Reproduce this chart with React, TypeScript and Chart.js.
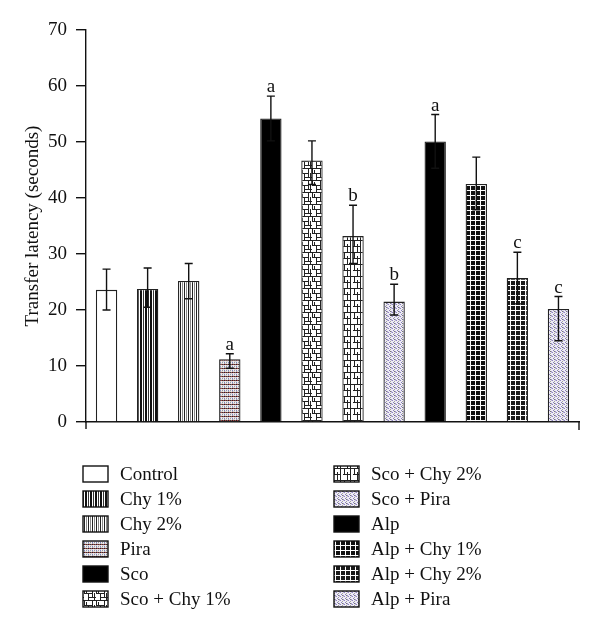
import React, { useEffect, useRef } from "react";
import { Chart, registerables } from "chart.js";

Chart.register(...registerables);

const categories = [
  "Control",
  "Chy 1%",
  "Chy 2%",
  "Pira",
  "Sco",
  "Sco + Chy 1%",
  "Sco + Chy 2%",
  "Sco + Pira",
  "Alp",
  "Alp + Chy 1%",
  "Alp + Chy 2%",
  "Alp + Pira",
];
const latency = [23.6, 23.75, 25.2, 11.2, 54.2, 46.7, 33.2, 21.5, 50.1, 42.5, 25.7, 20.2];
const errorHigh = [27.3, 27.5, 28.3, 12.2, 58.2, 50.2, 38.7, 24.6, 54.9, 47.3, 30.3, 22.4];
const errorLow = [20.0, 20.5, 22.0, 9.6, 50.2, 42.4, 28.3, 19.1, 45.3, 37.9, 21.1, 14.5];
const significance = ["", "", "", "a", "a", "", "b", "b", "a", "", "c", "c"];
const yMin = 0;
const yMax = 70;
const yStep = 10;
const yTitle = "Transfer latency (seconds)";

const patternKinds = [
  "plain",
  "vlinesDense",
  "vlines",
  "pira",
  "solid",
  "bricks1",
  "bricks2",
  "dots",
  "solid",
  "grid1",
  "grid2",
  "dots",
];

const FONT = "'Liberation Serif', 'DejaVu Serif', serif";

function makeFill(kind: string): string | CanvasPattern {
  if (kind === "plain") return "#ffffff";
  if (kind === "solid") return "#000000";
  const cv = document.createElement("canvas");
  const px = (c: CanvasRenderingContext2D, x: number, y: number, col: string, w = 1, h = 1) => {
    c.fillStyle = col;
    c.fillRect(x, y, w, h);
  };
  let c: CanvasRenderingContext2D;
  if (kind === "vlinesDense") {
    cv.width = 5; cv.height = 1;
    c = cv.getContext("2d")!;
    px(c, 0, 0, "#fff", 5, 1);
    px(c, 0, 0, "#111", 2, 1);
    px(c, 3, 0, "#333", 1, 1);
  } else if (kind === "vlines") {
    cv.width = 4; cv.height = 1;
    c = cv.getContext("2d")!;
    px(c, 0, 0, "#fff", 4, 1);
    px(c, 0, 0, "#222", 1, 1);
    px(c, 2, 0, "#888", 1, 1);
  } else if (kind === "pira") {
    cv.width = 4; cv.height = 4;
    c = cv.getContext("2d")!;
    px(c, 0, 0, "#d8d8dc", 4, 4);
    px(c, 0, 0, "#222"); px(c, 1, 0, "#b04040"); px(c, 2, 0, "#333"); px(c, 3, 0, "#a05050");
    px(c, 0, 2, "#7c7cc0"); px(c, 1, 2, "#f0f0f0"); px(c, 2, 2, "#999"); px(c, 3, 2, "#f0f0f0");
    px(c, 1, 1, "#eee"); px(c, 3, 3, "#eee"); px(c, 0, 3, "#aaa");
  } else if (kind === "dots") {
    cv.width = 4; cv.height = 4;
    c = cv.getContext("2d")!;
    px(c, 0, 0, "#eeecf4", 4, 4);
    px(c, 0, 0, "#8f86c0"); px(c, 2, 1, "#a0a0a0"); px(c, 1, 2, "#8880bc"); px(c, 3, 3, "#a098cc");
    px(c, 3, 0, "#c0b8dc"); px(c, 2, 3, "#777");
  } else if (kind === "bricks1") {
    cv.width = 12; cv.height = 12;
    c = cv.getContext("2d")!;
    px(c, 0, 0, "#fff", 12, 12);
    const k = "#222";
    px(c, 0, 0, k, 12, 1);
    px(c, 0, 5, k, 8, 1);
    px(c, 4, 9, k, 8, 1);
    px(c, 0, 0, k, 1, 6);
    px(c, 4, 5, k, 1, 7);
    px(c, 8, 0, k, 1, 10);
    px(c, 10, 5, k, 1, 7);
    px(c, 2, 2, k, 1, 3);
  } else if (kind === "bricks2") {
    cv.width = 10; cv.height = 12;
    c = cv.getContext("2d")!;
    px(c, 0, 0, "#fff", 10, 12);
    const k = "#222";
    px(c, 0, 0, k, 10, 1);
    px(c, 3, 6, k, 7, 1);
    px(c, 0, 0, k, 1, 12);
    px(c, 4, 0, k, 1, 6);
    px(c, 7, 4, k, 1, 8);
  } else {
    cv.width = 5; cv.height = 5;
    c = cv.getContext("2d")!;
    px(c, 0, 0, "#fff", 5, 5);
    px(c, 1, 1, kind === "grid1" ? "#111" : "#1a1a1a", 4, 4);
  }
  return c!.createPattern(cv, "repeat")!;
}

export default function App() {
  const ref = useRef<HTMLCanvasElement | null>(null);

  useEffect(() => {
    if (!ref.current) return;
    const fills = patternKinds.map(makeFill);

    const errorBars = {
      id: "errorBars",
      afterDatasetsDraw(chart: any) {
        const ctx = chart.ctx as CanvasRenderingContext2D;
        const meta = chart.getDatasetMeta(0);
        const ys = chart.scales.y;
        ctx.save();
        ctx.strokeStyle = "#111";
        ctx.lineWidth = 1.4;
        meta.data.forEach((el: any, i: number) => {
          const x = el.x;
          const hi = ys.getPixelForValue(errorHigh[i]);
          const lo = ys.getPixelForValue(errorLow[i]);
          ctx.beginPath();
          ctx.moveTo(x, hi);
          ctx.lineTo(x, lo);
          ctx.moveTo(x - 4, hi);
          ctx.lineTo(x + 4, hi);
          ctx.moveTo(x - 4, lo);
          ctx.lineTo(x + 4, lo);
          ctx.stroke();
          if (significance[i]) {
            ctx.fillStyle = "#111";
            ctx.font = `19px ${FONT}`;
            ctx.textAlign = "center";
            ctx.textBaseline = "alphabetic";
            ctx.fillText(significance[i], x, hi - 4);
          }
        });
        ctx.restore();
      },
    };

    const extras = {
      id: "extras",
      afterDraw(chart: any) {
        const ctx = chart.ctx as CanvasRenderingContext2D;
        const a = chart.chartArea;
        ctx.save();
        ctx.strokeStyle = "#111";
        ctx.lineWidth = 1.4;
        ctx.beginPath();
        ctx.moveTo(a.left, a.bottom);
        ctx.lineTo(a.left, a.bottom + 7);
        ctx.moveTo(a.right, a.bottom);
        ctx.lineTo(a.right, a.bottom + 8);
        ctx.stroke();

        const cols = [
          { sx: 83, tx: 120 },
          { sx: 334, tx: 371 },
        ];
        const perCol = Math.ceil(categories.length / 2);
        ctx.font = `19px ${FONT}`;
        ctx.textAlign = "left";
        ctx.textBaseline = "alphabetic";
        categories.forEach((name, i) => {
          const col = cols[Math.floor(i / perCol)];
          const row = i % perCol;
          const top = 466 + row * 25;
          ctx.fillStyle = fills[i] as any;
          ctx.fillRect(col.sx, top, 25, 16);
          ctx.lineWidth = 1.4;
          ctx.strokeStyle = "#111";
          ctx.strokeRect(col.sx, top, 25, 16);
          ctx.fillStyle = "#111";
          ctx.fillText(name, col.tx, top + 14);
        });
        ctx.restore();
      },
    };

    const chart = new Chart(ref.current, {
      type: "bar",
      data: {
        labels: categories,
        datasets: [
          {
            data: latency,
            backgroundColor: fills as any,
            borderColor: "#222",
            borderWidth: 1.3,
            barPercentage: 0.52,
            categoryPercentage: 1,
          },
        ],
      },
      options: {
        animation: false,
        responsive: false,
        devicePixelRatio: 1,
        layout: { padding: { top: 30, left: 0, right: 21, bottom: 0 } },
        plugins: { legend: { display: false }, tooltip: { enabled: false } },
        scales: {
          x: {
            grid: { display: false },
            ticks: { display: false },
            border: { color: "#111", width: 1.4 },
            afterFit(scale: any) {
              scale.height = 210;
            },
          },
          y: {
            min: yMin,
            max: yMax,
            ticks: {
              stepSize: yStep,
              color: "#111",
              padding: 9,
              font: { family: FONT, size: 19 },
            },
            grid: {
              drawOnChartArea: false,
              drawTicks: true,
              tickLength: 10,
              color: "#111",
              lineWidth: 1.4,
            },
            border: { color: "#111", width: 1.4 },
            title: {
              display: true,
              text: yTitle,
              color: "#111",
              font: { family: FONT, size: 19 },
              padding: { top: 22, bottom: 0 },
            },
            afterFit(scale: any) {
              scale.width = 86;
            },
          },
        },
      },
      plugins: [errorBars, extras],
    });
    return () => chart.destroy();
  }, []);

  return (
    <div style={{ position: "absolute", left: 0, top: 0, width: 600, height: 632, background: "#fff" }}>
      <canvas ref={ref} width={600} height={632} />
    </div>
  );
}
